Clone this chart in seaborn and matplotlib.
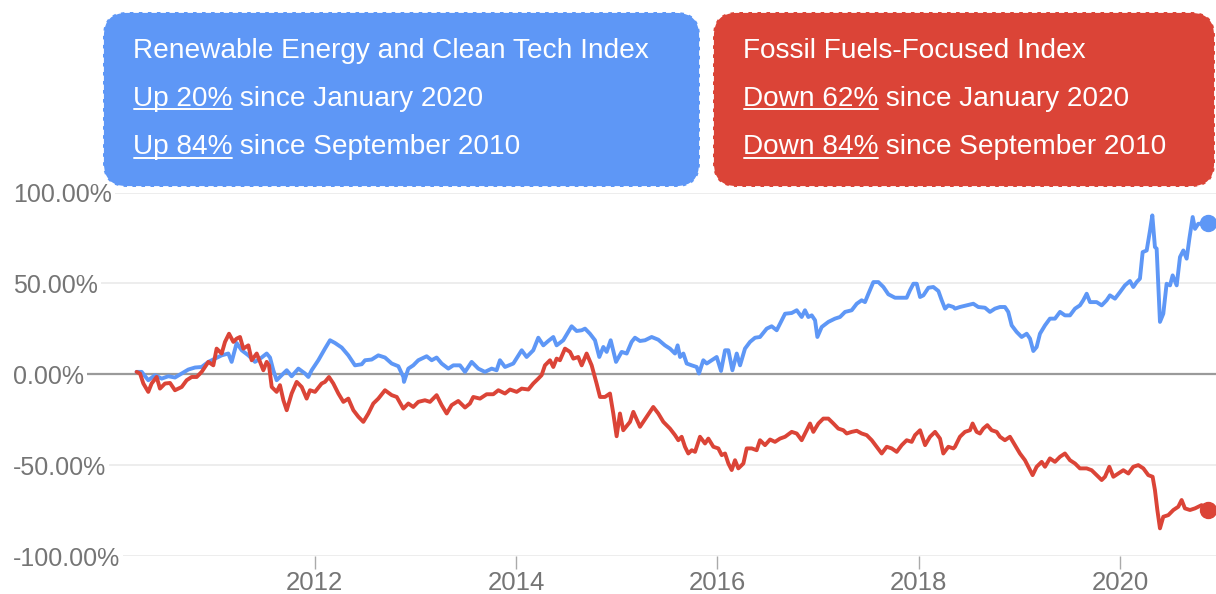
import matplotlib
matplotlib.use('Agg')
import matplotlib.pyplot as plt
import pandas as pd
import seaborn as sns
from matplotlib.patches import FancyBboxPatch
from matplotlib.lines import Line2D
from matplotlib.transforms import IdentityTransform

# ---------------- data ----------------
renew_years = [
    2010.232, 2010.282, 2010.348, 2010.415, 2010.481, 2010.547, 2010.613, 2010.680, 2010.746, 2010.812,
    2010.878, 2010.945, 2011.011, 2011.077, 2011.143, 2011.176, 2011.226, 2011.276, 2011.342, 2011.408,
    2011.474, 2011.524, 2011.557, 2011.590, 2011.623, 2011.673, 2011.723, 2011.772, 2011.839, 2011.905,
    2011.938, 2011.971, 2012.037, 2012.103, 2012.153, 2012.203, 2012.269, 2012.335, 2012.401, 2012.468,
    2012.501, 2012.567, 2012.633, 2012.699, 2012.766, 2012.832, 2012.882,
    2012.888, 2012.931, 2012.980, 2013.030, 2013.113, 2013.163, 2013.212, 2013.262, 2013.328, 2013.378,
    2013.444, 2013.494, 2013.560, 2013.626, 2013.692, 2013.759, 2013.808, 2013.841, 2013.891, 2013.974,
    2014.057, 2014.106, 2014.172, 2014.222, 2014.272, 2014.321, 2014.371, 2014.404, 2014.470, 2014.520,
    2014.553, 2014.603, 2014.653, 2014.686, 2014.735, 2014.785, 2014.828, 2014.868, 2014.901, 2014.941,
    2014.994, 2015.050, 2015.100, 2015.149, 2015.182, 2015.232, 2015.282, 2015.348, 2015.414, 2015.480,
    2015.530,
    2015.580, 2015.606, 2015.630, 2015.663, 2015.696, 2015.746, 2015.795, 2015.818, 2015.861, 2015.895,
    2015.944, 2015.994, 2016.037, 2016.077, 2016.110, 2016.150, 2016.193, 2016.226, 2016.275, 2016.325,
    2016.375, 2016.424, 2016.491, 2016.540, 2016.590, 2016.673, 2016.739, 2016.789, 2016.838, 2016.871,
    2016.904, 2016.938, 2016.971, 2016.994, 2017.037, 2017.103, 2017.169, 2017.219, 2017.269, 2017.335,
    2017.385, 2017.434, 2017.467, 2017.501, 2017.550, 2017.600, 2017.650, 2017.699, 2017.765, 2017.832,
    2017.881, 2017.914, 2017.948, 2017.981, 2018.014, 2018.047, 2018.097, 2018.146, 2018.196, 2018.229,
    2018.262, 2018.295, 2018.345,
    2018.361, 2018.410, 2018.477, 2018.543, 2018.592, 2018.659, 2018.708, 2018.758, 2018.808, 2018.857,
    2018.890, 2018.924, 2018.973, 2019.023, 2019.073, 2019.106, 2019.139, 2019.172, 2019.205, 2019.255,
    2019.304, 2019.354, 2019.404, 2019.453, 2019.503, 2019.553, 2019.602, 2019.635, 2019.669, 2019.702,
    2019.768, 2019.818, 2019.867, 2019.900, 2019.950, 2020.000, 2020.049, 2020.099, 2020.132, 2020.165,
    2020.198, 2020.225, 2020.265, 2020.298, 2020.321, 2020.347, 2020.364, 2020.397, 2020.430, 2020.463,
    2020.497, 2020.523, 2020.563, 2020.596, 2020.629, 2020.662, 2020.689, 2020.722, 2020.745, 2020.778,
    2020.828, 2020.878,
]
renew_vals = [
    1.3, 1.3, -3.3, -0.5, -2.4, -1.1, -1.8, 0.4, 2.6, 3.7,
    4.0, 6.8, 8.6, 10.4, 11.4, 6.8, 17.2, 13.2, 10.4, 6.8,
    9.2, 11.4, 9.2, 2.2, -3.3, -0.5, 2.2, -1.1, 3.1, 0.4,
    -1.5, 2.2, 7.7, 14.1, 18.7, 17.2, 14.7, 10.4, 4.9, 5.5,
    7.7, 8.1, 10.4, 9.2, 5.9, 4.4, -1.5,
    -4.2, 3.1, 4.9, 7.7, 9.9, 7.7, 9.2, 5.9, 3.1, 4.9,
    4.9, 1.3, 6.8, 3.1, 1.3, 3.1, 2.2, 7.7, 4.0, 5.9,
    13.2, 9.5, 13.2, 20.1, 15.9, 18.3, 20.5, 15.9, 18.7, 23.3,
    26.4, 23.8, 24.2, 25.1, 22.3, 18.7, 9.5, 15.0, 12.3, 18.7,
    6.8, 12.3, 11.4, 17.8, 20.1, 18.3, 18.7, 20.5, 19.0, 15.9,
    14.1,
    11.4, 15.9, 9.5, 11.4, 5.9, 4.9, 4.0, 0.4, 7.7, 5.9,
    7.7, 9.5, 1.8, 13.2, 13.2, 2.2, 11.4, 4.9, 14.1, 17.8,
    20.1, 20.5, 25.1, 26.4, 24.2, 33.3, 33.7, 35.2, 31.5, 35.2,
    31.5, 32.4, 29.7, 20.5, 26.0, 28.8, 30.6, 31.5, 34.3, 35.2,
    38.8, 40.7, 39.7, 44.3, 50.7, 50.7, 48.0, 44.0, 42.1, 42.1,
    42.1, 46.2, 49.8, 49.8, 42.5, 43.4, 47.6, 48.0, 45.8, 40.7,
    36.1, 37.9, 37.0,
    36.1, 37.0, 37.9, 38.8, 37.0, 36.6, 34.3, 36.1, 37.0, 37.0,
    34.3, 26.9, 23.3, 20.5, 22.3, 19.6, 12.8, 15.0, 22.3, 26.9,
    30.6, 30.6, 34.3, 32.4, 32.4, 36.1, 37.9, 40.7, 44.3, 39.7,
    39.7, 37.9, 40.7, 43.4, 41.6, 45.2, 48.9, 51.3, 48.0, 50.7,
    52.6, 67.2, 68.1, 79.1, 87.4, 70.0, 69.1, 28.8, 33.3, 49.8,
    48.9, 54.4, 48.9, 64.5, 68.1, 63.6, 74.6, 86.5, 80.0, 82.8,
    82.8, 83.2,
]

fossil_years = [
    2010.232, 2010.266, 2010.299, 2010.348, 2010.381, 2010.431, 2010.464, 2010.514, 2010.564, 2010.613,
    2010.680, 2010.729, 2010.779, 2010.829, 2010.878, 2010.945, 2010.994, 2011.027, 2011.077, 2011.110,
    2011.150, 2011.193, 2011.226, 2011.259, 2011.292, 2011.342, 2011.375, 2011.425, 2011.458, 2011.491,
    2011.524, 2011.547, 2011.574, 2011.623, 2011.656, 2011.690, 2011.723, 2011.772, 2011.822, 2011.872,
    2011.921, 2011.954, 2012.004, 2012.070, 2012.103, 2012.143, 2012.186, 2012.236, 2012.286, 2012.335,
    2012.385, 2012.435, 2012.484, 2012.534, 2012.583, 2012.633, 2012.699, 2012.766, 2012.816,
    2012.881, 2012.931, 2012.980, 2013.030, 2013.096, 2013.146, 2013.212, 2013.262, 2013.312, 2013.361,
    2013.427, 2013.494, 2013.543, 2013.576, 2013.643, 2013.709, 2013.775, 2013.825, 2013.891, 2013.941,
    2014.007, 2014.057, 2014.123, 2014.172, 2014.222, 2014.255, 2014.288, 2014.338, 2014.371, 2014.404,
    2014.437, 2014.487, 2014.537, 2014.570, 2014.619, 2014.653, 2014.702, 2014.752, 2014.801, 2014.835,
    2014.884, 2014.934, 2014.967, 2015.000, 2015.033, 2015.066, 2015.133, 2015.166, 2015.232, 2015.298,
    2015.364, 2015.414, 2015.464, 2015.530, 2015.580,
    2015.613, 2015.646, 2015.679, 2015.712, 2015.746, 2015.779, 2015.828, 2015.878, 2015.911, 2015.961,
    2016.010, 2016.044, 2016.077, 2016.110, 2016.143, 2016.176, 2016.209, 2016.259, 2016.292, 2016.342,
    2016.391, 2016.424, 2016.474, 2016.524, 2016.573, 2016.623, 2016.673, 2016.739, 2016.789, 2016.838,
    2016.888, 2016.921, 2016.954, 2017.004, 2017.053, 2017.103, 2017.153, 2017.202, 2017.252, 2017.285,
    2017.335, 2017.385, 2017.434, 2017.484, 2017.534, 2017.583, 2017.633, 2017.683, 2017.732, 2017.782,
    2017.832, 2017.881, 2017.931, 2017.964, 2018.014, 2018.064, 2018.113, 2018.163, 2018.212, 2018.245,
    2018.295, 2018.345,
    2018.361, 2018.410, 2018.460, 2018.510, 2018.536, 2018.576, 2018.609, 2018.642, 2018.682, 2018.725,
    2018.775, 2018.808, 2018.857, 2018.907, 2018.957, 2019.006, 2019.056, 2019.089, 2019.132, 2019.172,
    2019.222, 2019.255, 2019.304, 2019.354, 2019.404, 2019.453, 2019.503, 2019.553, 2019.602, 2019.669,
    2019.718, 2019.768, 2019.818, 2019.851, 2019.894, 2019.934, 2019.983, 2020.033, 2020.083, 2020.132,
    2020.182, 2020.232, 2020.281, 2020.324, 2020.347, 2020.371, 2020.397, 2020.430, 2020.480, 2020.530,
    2020.579, 2020.612, 2020.645, 2020.695, 2020.745, 2020.778, 2020.811, 2020.844, 2020.878,
]
fossil_vals = [
    1.3, 0.4, -5.1, -9.7, -5.1, -1.5, -7.9, -5.1, -4.8, -8.8,
    -7.0, -3.3, -1.5, -1.5, 1.3, 6.8, 4.9, 14.1, 11.4, 17.8,
    22.3, 17.8, 19.6, 20.5, 14.1, 15.9, 7.7, 11.4, 6.8, 2.2,
    6.8, 4.9, -7.0, -9.7, -6.0, -14.3, -19.8, -10.6, -4.2, -7.0,
    -13.4, -8.8, -9.7, -5.1, -4.2, -1.5, -5.1, -10.6, -15.2, -13.4,
    -19.8, -23.4, -26.2, -21.6, -16.1, -13.4, -8.8, -11.5, -12.5,
    -18.9, -16.1, -18.0, -15.2, -14.3, -15.2, -11.5, -17.0, -21.6, -17.0,
    -14.7, -18.3, -16.1, -12.5, -13.4, -11.0, -11.0, -8.8, -10.6, -8.4,
    -9.7, -7.9, -8.4, -5.1, -2.4, -0.5, 4.9, 7.7, 4.0, 8.6,
    7.7, 14.1, 12.3, 8.6, 9.5, 4.9, 11.4, 4.9, -5.1, -12.5,
    -12.5, -10.6, -21.6, -34.1, -21.6, -30.8, -26.2, -20.7, -28.9, -23.4,
    -18.0, -21.6, -26.2, -29.9, -33.5,
    -36.3, -34.4, -39.9, -43.6, -41.8, -42.7, -34.4, -38.1, -35.4, -39.9,
    -40.8, -44.5, -43.6, -49.1, -52.7, -47.3, -51.8, -49.1, -40.8, -40.8,
    -41.8, -36.3, -39.0, -35.9, -37.2, -35.4, -34.4, -31.7, -32.6, -36.3,
    -30.8, -27.1, -31.7, -27.1, -24.4, -24.4, -27.1, -29.9, -30.8, -32.6,
    -31.7, -31.1, -32.6, -33.5, -36.3, -39.9, -43.6, -39.9, -40.8, -42.7,
    -39.0, -36.3, -37.2, -33.5, -30.8, -39.0, -34.4, -31.7, -35.4, -43.6,
    -39.9, -40.8,
    -39.9, -34.4, -31.7, -30.8, -27.1, -31.7, -32.6, -29.9, -28.0, -30.8,
    -31.7, -34.4, -36.3, -34.4, -39.0, -43.6, -47.3, -50.9, -55.5, -50.9,
    -48.2, -50.9, -46.3, -48.2, -45.4, -43.6, -47.3, -49.1, -51.8, -51.8,
    -52.8, -55.5, -58.2, -56.4, -50.9, -56.4, -54.6, -52.8, -54.6, -50.9,
    -50.0, -51.8, -55.5, -56.4, -63.7, -74.7, -84.8, -78.4, -77.5, -74.7,
    -72.9, -69.2, -73.8, -74.7, -73.8, -72.9, -72.0, -73.8, -74.7,
]

series_names = ['Renewable Energy and Clean Tech Index', 'Fossil Fuels-Focused Index']

y_ticks = [100, 50, 0, -50, -100]
y_tick_labels = ['100.00%', '50.00%', '0.00%', '-50.00%', '-100.00%']
x_ticks = [2012, 2014, 2016, 2018, 2020]
x_tick_labels = ['2012', '2014', '2016', '2018', '2020']

renew_box_lines = [('Up 20%', ' since January 2020'), ('Up 84%', ' since September 2010')]
fossil_box_lines = [('Down 62%', ' since January 2020'), ('Down 84%', ' since September 2010')]

BLUE = '#5E97F6'
RED = '#DB4437'
GRAY_TXT = '#757575'

# ---------------- figure ----------------
sns.set_theme(style='white')
plt.rcParams['font.family'] = ['Liberation Sans', 'DejaVu Sans']

W, H = 1216, 594
fig = plt.figure(figsize=(W / 100, H / 100), dpi=100)
fig.patch.set_facecolor('white')

ax_left, ax_right = 12, 1216
ax_top, ax_bottom = 192.5, 556
ax = fig.add_axes([ax_left / W, (H - ax_bottom) / H, (ax_right - ax_left) / W, (ax_bottom - ax_top) / H])
ax.set_facecolor('white')

df = pd.concat([
    pd.DataFrame({'year': renew_years, 'value': renew_vals, 'series': series_names[0]}),
    pd.DataFrame({'year': fossil_years, 'value': fossil_vals, 'series': series_names[1]}),
], ignore_index=True)

sns.lineplot(data=df, x='year', y='value', hue='series', hue_order=series_names,
             palette={series_names[0]: BLUE, series_names[1]: RED},
             estimator=None, sort=False, linewidth=2.8, legend=False, ax=ax, zorder=2)

ax.plot([renew_years[-1]], [renew_vals[-1]], 'o', ms=11.5, color=BLUE, clip_on=False, zorder=3)
ax.plot([fossil_years[-1]], [fossil_vals[-1]], 'o', ms=11.5, color=RED, clip_on=False, zorder=3)

# px -> year mapping: 2012 at x=314.6, 100.675 px per year
ax.set_xlim(2012 + (ax_left - 314.6) / 100.675, 2012 + (ax_right - 314.6) / 100.675)
ax.set_ylim(-100, 100)
ax.set_xlabel('')
ax.set_ylabel('')

for s in ax.spines.values():
    s.set_visible(False)

ax.set_yticks(y_ticks, y_tick_labels)
ax.set_xticks(x_ticks, x_tick_labels)
ax.set_axisbelow(True)
ax.grid(axis='y', color='#ececec', linewidth=1.3)
ax.grid(axis='x', visible=False)

ax.tick_params(axis='y', left=False, length=0, pad=-0.8, labelsize=18, labelcolor=GRAY_TXT)
for lab in ax.get_yticklabels():
    lab.set_horizontalalignment('left')
    lab.set_bbox(dict(facecolor='white', edgecolor='none', pad=2.0))

for tk in ax.yaxis.get_major_ticks():
    if tk.get_loc() == 0:
        tk.gridline.set_color('#9a9a9a')
        tk.gridline.set_linewidth(1.6)

ax.tick_params(axis='x', bottom=True, direction='out', length=9, width=1, color='#aaaaaa',
               pad=2, labelsize=18.5, labelcolor=GRAY_TXT)

# ---------------- annotation boxes ----------------
PIX = IdentityTransform()


def add_box(x0, x1, ytop, ybot, color):
    p = FancyBboxPatch((x0, H - ybot), x1 - x0, ybot - ytop,
                       boxstyle='round,pad=0,rounding_size=24',
                       facecolor=color, edgecolor='white', linewidth=1.3,
                       linestyle=(0, (3, 2)), transform=PIX, zorder=5)
    fig.add_artist(p)


def add_box_text(x, title, lines):
    fs = 20.2
    fig.text(x, H - 57.5, title, transform=PIX, color='white', fontsize=fs, va='baseline', zorder=6)
    renderer = fig.canvas.get_renderer()
    for (under, rest), base in zip(lines, [106.0, 154.5]):
        t1 = fig.text(x, H - base, under, transform=PIX, color='white', fontsize=fs,
                      va='baseline', zorder=6)
        bb = t1.get_window_extent(renderer)
        fig.text(bb.x1, H - base, rest, transform=PIX, color='white', fontsize=fs,
                 va='baseline', zorder=6)
        fig.add_artist(Line2D([bb.x0 + 0.5, bb.x1 - 0.5], [H - base - 3.2] * 2, transform=PIX,
                              color='white', linewidth=1.4, zorder=6))


add_box(103, 700, 12, 187, BLUE)
add_box(713, 1215, 12, 187, RED)
add_box_text(133, series_names[0], renew_box_lines)
add_box_text(743, series_names[1], fossil_box_lines)

fig.savefig('out.png', dpi=100, facecolor='white')
